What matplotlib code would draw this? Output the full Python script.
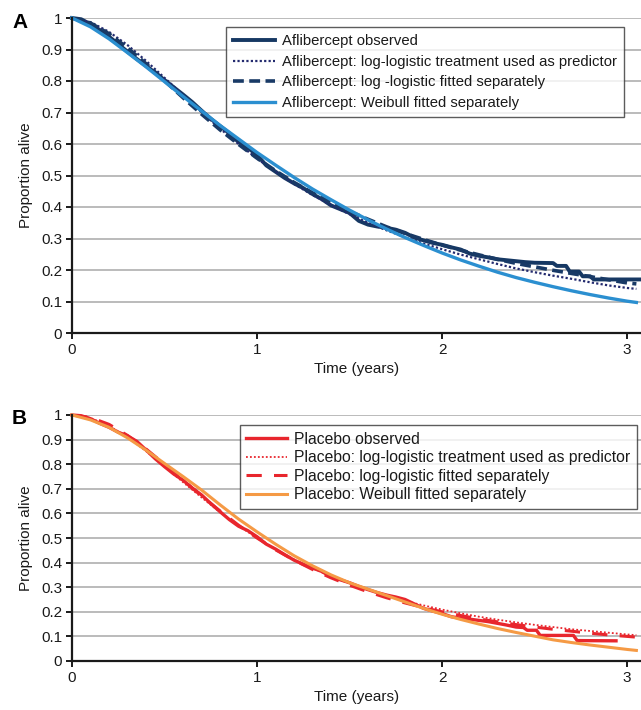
import matplotlib.pyplot as plt
import numpy as np

plt.rcParams['font.family'] = ['Liberation Sans', 'DejaVu Sans']

# ---- panel A: aflibercept ----
obs_a_t = [0.00, 0.05, 0.10, 0.15, 0.20, 0.25, 0.30, 0.35, 0.40, 0.45, 0.50, 0.55,
           0.60, 0.65, 0.70, 0.75, 0.80, 0.85, 0.90, 0.95, 1.00, 1.05, 1.10, 1.15,
           1.20, 1.25, 1.30, 1.35, 1.40, 1.45, 1.50, 1.55, 1.60, 1.65, 1.70, 1.75,
           1.80, 1.85, 1.90, 1.95, 2.00, 2.05, 2.10, 2.15, 2.20, 2.25, 2.30, 2.35,
           2.40, 2.45, 2.50, 2.60, 2.62, 2.67, 2.69, 2.74, 2.76, 2.80, 2.82, 3.075]
obs_a_s = [1.000, 0.996, 0.980, 0.962, 0.941, 0.917, 0.893, 0.870, 0.848, 0.826, 0.803, 0.780,
           0.757, 0.733, 0.706, 0.680, 0.657, 0.634, 0.606, 0.588, 0.565, 0.532, 0.512, 0.492,
           0.475, 0.460, 0.441, 0.425, 0.405, 0.393, 0.381, 0.356, 0.344, 0.338, 0.334, 0.328,
           0.318, 0.303, 0.294, 0.286, 0.280, 0.272, 0.265, 0.252, 0.245, 0.240, 0.234, 0.231,
           0.228, 0.225, 0.223, 0.222, 0.213, 0.213, 0.195, 0.195, 0.180, 0.180, 0.170, 0.170]

fit_t = [0.0, 0.1, 0.2, 0.3, 0.4, 0.5, 0.6, 0.7, 0.8, 0.9, 1.0, 1.1, 1.2, 1.3, 1.4, 1.5,
         1.6, 1.7, 1.8, 1.9, 2.0, 2.1, 2.2, 2.3, 2.4, 2.5, 2.6, 2.7, 2.8, 2.9, 3.0, 3.05]

pred_a = [1.000, 0.987, 0.956, 0.914, 0.864, 0.810, 0.755, 0.701, 0.649, 0.600, 0.554, 0.512,
          0.473, 0.438, 0.406, 0.377, 0.350, 0.326, 0.304, 0.284, 0.266, 0.249, 0.234, 0.219,
          0.205, 0.193, 0.182, 0.172, 0.161, 0.151, 0.143, 0.140]
sep_a = [1.000, 0.984, 0.950, 0.905, 0.855, 0.801, 0.747, 0.695, 0.645, 0.599, 0.555, 0.515,
         0.478, 0.445, 0.414, 0.386, 0.361, 0.337, 0.316, 0.297, 0.279, 0.263, 0.248, 0.234,
         0.221, 0.210, 0.199, 0.189, 0.179, 0.169, 0.159, 0.156]
weib_a = [1.000, 0.972, 0.934, 0.890, 0.845, 0.798, 0.751, 0.705, 0.659, 0.616, 0.573, 0.533,
          0.494, 0.457, 0.423, 0.390, 0.359, 0.330, 0.303, 0.278, 0.254, 0.232, 0.212, 0.193,
          0.176, 0.161, 0.147, 0.134, 0.122, 0.111, 0.101, 0.097]

# ---- panel B: placebo ----
obs_b_t = [0.00, 0.05, 0.10, 0.15, 0.20, 0.25, 0.30, 0.35, 0.40, 0.45, 0.50, 0.55,
           0.60, 0.65, 0.70, 0.75, 0.80, 0.85, 0.90, 0.95, 1.00, 1.05, 1.10, 1.15,
           1.20, 1.25, 1.30, 1.35, 1.40, 1.45, 1.50, 1.55, 1.60, 1.65, 1.70, 1.75,
           1.80, 1.85, 1.90, 1.95, 2.00, 2.05, 2.10, 2.15, 2.20, 2.25, 2.30, 2.35,
           2.40, 2.44, 2.46, 2.51, 2.53, 2.71, 2.73, 2.94]
obs_b_s = [1.000, 0.997, 0.985, 0.966, 0.950, 0.930, 0.915, 0.893, 0.858, 0.822, 0.790, 0.760,
           0.735, 0.703, 0.675, 0.640, 0.607, 0.575, 0.548, 0.530, 0.505, 0.475, 0.455, 0.432,
           0.410, 0.393, 0.378, 0.364, 0.342, 0.330, 0.318, 0.303, 0.290, 0.278, 0.268, 0.260,
           0.250, 0.232, 0.214, 0.203, 0.193, 0.180, 0.174, 0.170, 0.165, 0.160, 0.153, 0.146,
           0.138, 0.136, 0.125, 0.125, 0.104, 0.104, 0.083, 0.082]

pred_b = [1.000, 0.988, 0.956, 0.910, 0.853, 0.791, 0.727, 0.665, 0.605, 0.550, 0.500, 0.454,
          0.413, 0.377, 0.344, 0.315, 0.289, 0.265, 0.244, 0.226, 0.209, 0.194, 0.180, 0.168,
          0.157, 0.147, 0.138, 0.129, 0.122, 0.115, 0.108, 0.105]
sep_b = [1.000, 0.990, 0.962, 0.917, 0.862, 0.800, 0.735, 0.671, 0.610, 0.552, 0.500, 0.452,
         0.410, 0.372, 0.338, 0.308, 0.281, 0.257, 0.236, 0.217, 0.200, 0.185, 0.171, 0.159,
         0.148, 0.138, 0.129, 0.121, 0.113, 0.106, 0.100, 0.097]
weib_b = [1.000, 0.980, 0.950, 0.907, 0.857, 0.803, 0.750, 0.695, 0.635, 0.577, 0.525, 0.475,
          0.428, 0.387, 0.350, 0.318, 0.292, 0.266, 0.240, 0.214, 0.190, 0.169, 0.150, 0.132,
          0.116, 0.101, 0.086, 0.075, 0.065, 0.056, 0.047, 0.043]

labels_a = ['Aflibercept observed',
            'Aflibercept: log-logistic treatment used as predictor',
            'Aflibercept: log -logistic fitted separately',
            'Aflibercept: Weibull fitted separately']
labels_b = ['Placebo observed',
            'Placebo: log-logistic treatment used as predictor',
            'Placebo: log-logistic fitted separately',
            'Placebo: Weibull fitted separately']

fig = plt.figure(figsize=(6.41, 7.10), dpi=100)
ax_a = fig.add_axes([72 / 641, 1 - 333 / 710, 569 / 641, 315 / 710])
ax_b = fig.add_axes([72 / 641, 1 - 661 / 710, 569 / 641, 246 / 710])


def style_axes(ax):
    ax.set_xlim(0, 3.075)
    ax.set_ylim(0, 1)
    ax.set_yticks(np.arange(0, 1.01, 0.1))
    ax.set_yticklabels(['0', '0.1', '0.2', '0.3', '0.4', '0.5', '0.6', '0.7', '0.8', '0.9', '1'])
    ax.set_xticks([0, 1, 2, 3])
    ax.set_xticklabels(['0', '1', '2', '3'])
    ax.grid(axis='y', color='#a8a8a8', linewidth=1.1)
    ax.set_axisbelow(True)
    for s in ['top', 'right']:
        ax.spines[s].set_visible(False)
    for s in ['left', 'bottom']:
        ax.spines[s].set_linewidth(1.6)
        ax.spines[s].set_color('#1a1a1a')
    ax.tick_params(axis='both', direction='out', length=4, width=1.4,
                   labelsize=11, colors='#1a1a1a', pad=3)
    ax.set_xlabel('Time (years)', fontsize=11, color='#1a1a1a', labelpad=4)
    ax.set_ylabel('Proportion alive', fontsize=11, color='#1a1a1a', labelpad=6)


def style_legend(leg):
    leg.get_frame().set_edgecolor('#333333')
    leg.get_frame().set_linewidth(1.0)
    for t in leg.get_texts():
        t.set_color('#1a1a1a')


# panel A
ax_a.plot(obs_a_t, obs_a_s, color='#163863', lw=2.8, label=labels_a[0], clip_on=False)
ax_a.plot(fit_t, pred_a, color='#232a6e', lw=1.6, linestyle=(0, (1, 1)), label=labels_a[1])
ax_a.plot(fit_t, sep_a, color='#193a66', lw=2.6, linestyle=(0, (3, 1.5)), label=labels_a[2])
ax_a.plot(fit_t, weib_a, color='#2b8fd0', lw=2.4, label=labels_a[3], clip_on=False)
style_axes(ax_a)
leg_a = ax_a.legend(loc='upper left', bbox_to_anchor=(0.2707, 0.971), borderaxespad=0,
                    fontsize=10.7, frameon=True, fancybox=False, handlelength=2.8,
                    handletextpad=0.5, labelspacing=0.44, borderpad=0.48)
style_legend(leg_a)

# panel B
ax_b.plot(obs_b_t, obs_b_s, color='#e8262d', lw=2.4, label=labels_b[0], clip_on=False)
ax_b.plot(fit_t, pred_b, color='#e8262d', lw=1.3, linestyle=(0, (1, 1.2)), label=labels_b[1])
ax_b.plot(fit_t, sep_b, color='#e8262d', lw=2.2, linestyle=(0, (5, 4)), label=labels_b[2])
ax_b.plot(fit_t, weib_b, color='#f59a45', lw=2.2, label=labels_b[3], clip_on=False)
style_axes(ax_b)
leg_b = ax_b.legend(loc='upper left', bbox_to_anchor=(0.295, 0.959), borderaxespad=0,
                    fontsize=11.3, frameon=True, fancybox=False, handlelength=2.6,
                    handletextpad=0.45, labelspacing=0.22, borderpad=0.42)
style_legend(leg_b)

fig.text(12 / 641, 1 - 22 / 710, 'A', fontsize=15, fontweight='bold', va='center')
fig.text(12 / 641, 1 - 418 / 710, 'B', fontsize=15, fontweight='bold', va='center')

fig.savefig('out.png', dpi=100)
